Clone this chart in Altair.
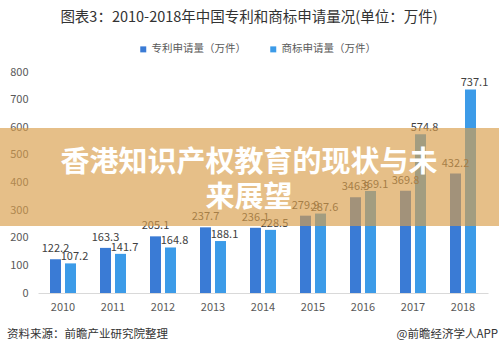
import altair as alt
import pandas as pd

years = ["2010", "2011", "2012", "2013", "2014", "2015", "2016", "2017", "2018"]
patent = [122.2, 163.3, 205.1, 237.7, 236.1, 279.9, 346.5, 369.8, 432.2]
trademark = [107.2, 141.7, 164.8, 188.1, 228.5, 287.6, 369.1, 574.8, 737.1]
series = ["专利申请量（万件）", "商标申请量（万件）"]
colors = ["#3A7BD5", "#3C9BE8"]
y_ticks = [0, 100, 200, 300, 400, 500, 600, 700, 800]

rows = []
for i, y in enumerate(years):
    rows.append({"year": y, "series": series[0], "value": patent[i], "label": f"{patent[i]:.1f}"})
    rows.append({"year": y, "series": series[1], "value": trademark[i], "label": f"{trademark[i]:.1f}"})
df = pd.DataFrame(rows)

FONT = "Noto Sans CJK SC"
W, H = 450, 221

xs = alt.X("year:N", sort=years, title=None,
           scale=alt.Scale(paddingInner=0.48, paddingOuter=0.24),
           axis=alt.Axis(labelAngle=0, ticks=False, domainColor="#D9D9D9", domainWidth=1,
                         labelColor="#595959", labelFontSize=11, labelPadding=8, labelFont=FONT))
ys = alt.Y("value:Q", title=None,
           scale=alt.Scale(domain=[0, 800], nice=False),
           axis=alt.Axis(values=y_ticks, grid=False, domain=False, ticks=False, labelOverlap=False,
                         labelColor="#595959", labelFontSize=11, labelPadding=10, labelFont=FONT))
xo = alt.XOffset("series:N", sort=series, scale=alt.Scale(paddingInner=0.267, paddingOuter=0))

bars = alt.Chart(df).mark_bar().encode(
    x=xs, y=ys, xOffset=xo,
    color=alt.Color("series:N", sort=series,
                    scale=alt.Scale(domain=series, range=colors),
                    legend=alt.Legend(orient="none", direction="horizontal", title=None,
                                      legendX=100, legendY=-28, symbolType="square",
                                      symbolSize=36, labelFontSize=10.5, labelColor="#595959",
                                      labelFont=FONT, columnPadding=22, symbolStrokeWidth=0,
                                      labelOffset=3)),
)

lab_p = alt.Chart(df).transform_filter(alt.datum.series == series[0]).mark_text(
    baseline="bottom", dy=-5, fontSize=11, color="#404040", font=FONT
).encode(x=xs, y=ys, xOffset=xo, text="label:N")

lab_t = alt.Chart(df).transform_filter(alt.datum.series == series[1]).mark_text(
    baseline="bottom", dy=-1, dx=4, fontSize=11, color="#404040", font=FONT
).encode(x=xs, y=ys, xOffset=xo, text="label:N")

title = alt.Chart(pd.DataFrame({"t": ["图表3：2010-2018年中国专利和商标申请量况(单位：万件)"]})).mark_text(
    fontSize=14.5, color="#333333", font=FONT, baseline="middle", align="center"
).encode(x=alt.value(211), y=alt.value(-54), text="t:N")

foot_l = alt.Chart(pd.DataFrame({"t": ["资料来源：前瞻产业研究院整理"]})).mark_text(
    fontSize=11.5, color="#333333", font=FONT, baseline="middle", align="left"
).encode(x=alt.value(-31), y=alt.value(263), text="t:N")

foot_r = alt.Chart(pd.DataFrame({"t": ["@前瞻经济学人APP"]})).mark_text(
    fontSize=11.5, color="#333333", font=FONT, baseline="middle", align="right"
).encode(x=alt.value(460), y=alt.value(263), text="t:N")

banner = alt.Chart(pd.DataFrame({"a": [1]})).mark_rect(
    color="#D99E4A", opacity=0.66
).encode(x=alt.value(-38), x2=alt.value(461), y=alt.value(56), y2=alt.value(154))

banner_text = alt.Chart(pd.DataFrame({"t": ["香港知识产权教育的现状与未", "来展望"], "yy": [91, 126]})).mark_text(
    fontSize=29, fontWeight="bold", color="#FFFFFF", font=FONT, baseline="middle", align="center"
).encode(x=alt.value(211), y=alt.Y("yy:Q", scale=None), text="t:N")

chart = alt.layer(bars, lab_p, lab_t, title, foot_l, foot_r, banner, banner_text).properties(
    width=W, height=H,
    padding={"left": 38, "top": 72, "right": 11, "bottom": 61},
    autosize=alt.AutoSizeParams(type="none"),
    background="#FFFFFF",
).configure_view(stroke=None)

chart.save("out.html", embed_options={"renderer": "svg", "actions": False})
